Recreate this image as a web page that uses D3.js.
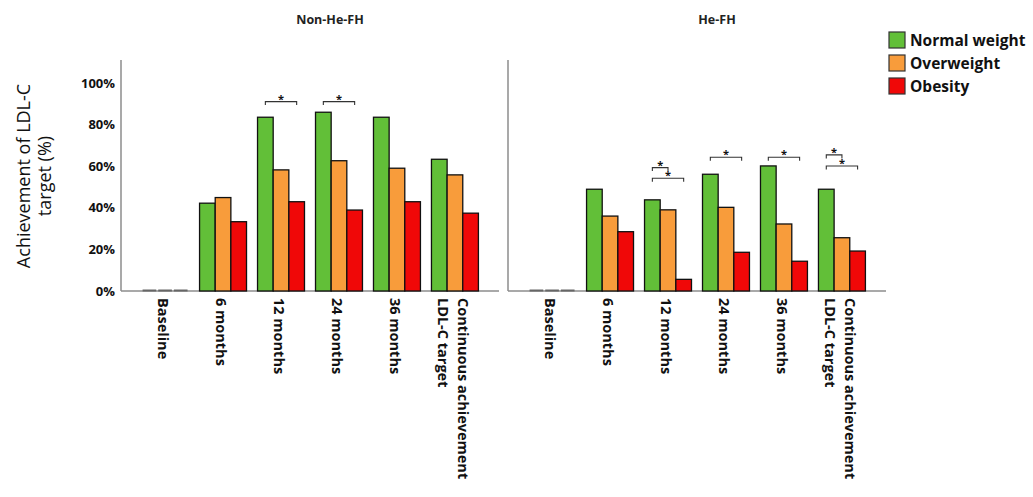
<!DOCTYPE html>
<html>
<head>
<meta charset="utf-8">
<script src="https://cdn.jsdelivr.net/npm/d3@7/dist/d3.min.js"></script>
<style>
  html, body { margin: 0; padding: 0; background: #fff; }
  svg { display: block; font-family: "Open Sans", "DejaVu Sans", sans-serif; }
</style>
</head>
<body>
<svg id="chart" width="1033" height="497"></svg>
<script>
// Time points (multi-line labels are split into lines)
const categories = ["Baseline", "6 months", "12 months", "24 months", "36 months", "Continuous achievement\nLDL-C target"];
const seriesNames = ["Normal weight", "Overweight", "Obesity"];
const seriesColors = ["#62BF38", "#F89C3B", "#F00808"];
const panelTitles = ["Non-He-FH", "He-FH"];

// Achievement of LDL-C target (%), Non-He-FH
const nonHeNormal = [0, 42.2, 83.5, 85.9, 83.5, 63.3];
const nonHeOver   = [0, 44.9, 58.2, 62.6, 59.0, 55.8];
const nonHeObese  = [0, 33.3, 42.9, 38.9, 42.9, 37.4];
// Achievement of LDL-C target (%), He-FH
const heNormal = [0, 48.9, 43.8, 56.1, 60.1, 48.9];
const heOver   = [0, 36.0, 39.0, 40.2, 32.2, 25.6];
const heObese  = [0, 28.5, 5.6, 18.6, 14.3, 19.2];

const yTicks = [0, 20, 40, 60, 80, 100];

// Significant pairwise differences: panel, category, series pair, bracket level (%)
const sigPanel = [0, 0, 1, 1, 1, 1, 1, 1];
const sigCat   = [2, 3, 2, 2, 3, 4, 5, 5];
const sigFrom  = [0, 0, 0, 0, 0, 0, 0, 0];
const sigTo    = [2, 2, 1, 2, 2, 2, 1, 2];
const sigLevel = [91, 91, 59.3, 54.2, 64.3, 64.3, 65.4, 60.1];

const panels = [
  { title: panelTitles[0], series: [nonHeNormal, nonHeOver, nonHeObese], range: [121, 499] },
  { title: panelTitles[1], series: [heNormal, heOver, heObese], range: [508, 886] }
];

const svg = d3.select("#chart");
const y = d3.scaleLinear().domain([0, 111]).range([291, 60]);

// y axis labels and title
svg.append("g").selectAll("text").data(yTicks).join("text")
  .attr("x", 115).attr("y", d => y(d)).attr("dy", "0.36em")
  .attr("text-anchor", "end").attr("font-size", 13).attr("font-weight", 700)
  .attr("fill", "#111").text(d => d + "%");

const yTitle = svg.append("text")
  .attr("transform", "translate(24,176) rotate(-90)")
  .attr("text-anchor", "middle").attr("font-size", 18).attr("fill", "#111");
yTitle.append("tspan").attr("x", 0).attr("dy", "0.35em").text("Achievement of LDL-C");
yTitle.append("tspan").attr("x", 0).attr("dy", "1.15em").text("target (%)");

const grey = "#8c8c8c";

panels.forEach((p, pi) => {
  const x = d3.scaleBand().domain(categories).range(p.range)
    .paddingInner(0.19).paddingOuter(0.355);
  const xs = d3.scaleBand().domain(seriesNames).range([0, x.bandwidth()]);
  const g = svg.append("g");

  // axes lines
  g.append("line").attr("x1", p.range[0]).attr("x2", p.range[0])
    .attr("y1", y(111)).attr("y2", y(0)).attr("stroke", grey).attr("stroke-width", 1.5);
  g.append("line").attr("x1", p.range[0]).attr("x2", p.range[1])
    .attr("y1", y(0)).attr("y2", y(0)).attr("stroke", grey).attr("stroke-width", 1.5);

  // panel title
  g.append("text").attr("x", (p.range[0] + p.range[1]) / 2 + 20).attr("y", 20)
    .attr("dy", "0.35em").attr("text-anchor", "middle")
    .attr("font-size", 12.5).attr("font-weight", 700).attr("fill", "#222").text(p.title);

  // bars
  const cells = [];
  categories.forEach((c, ci) => seriesNames.forEach((s, si) =>
    cells.push({ c, s, si, v: p.series[si][ci] })));

  g.selectAll("rect.bar").data(cells.filter(d => d.v > 0)).join("rect")
    .attr("class", "bar")
    .attr("x", d => x(d.c) + xs(d.s))
    .attr("y", d => y(d.v))
    .attr("width", xs.bandwidth())
    .attr("height", d => y(0) - y(d.v))
    .attr("fill", d => seriesColors[d.si])
    .attr("stroke", "#111").attr("stroke-width", 1.3);

  // zero-valued bars appear as short dashes on the baseline
  g.selectAll("line.zero").data(cells.filter(d => d.v === 0)).join("line")
    .attr("class", "zero")
    .attr("x1", d => x(d.c) + xs(d.s) + 1)
    .attr("x2", d => x(d.c) + xs(d.s) + xs.bandwidth() - 1)
    .attr("y1", y(0) - 0.5).attr("y2", y(0) - 0.5)
    .attr("stroke", "#666").attr("stroke-width", 2);

  // category labels, rotated to read downward
  categories.forEach(c => {
    const lines = c.split("\n");
    const cx = x(c) + x.bandwidth() / 2 - 2;
    lines.forEach((ln, li) => {
      const off = (lines.length - 1) / 2 * 20 - li * 20;
      g.append("text")
        .attr("transform", `translate(${cx + off},298) rotate(90)`)
        .attr("dy", "0.36em")
        .attr("font-size", 14.5).attr("font-weight", 700).attr("fill", "#111")
        .text(ln);
    });
  });

  // significance brackets
  sigPanel.forEach((sp, k) => {
    if (sp !== pi) return;
    const c = categories[sigCat[k]];
    const x1 = x(c) + xs(seriesNames[sigFrom[k]]) + xs.bandwidth() / 2;
    const x2 = x(c) + xs(seriesNames[sigTo[k]]) + xs.bandwidth() / 2;
    const yy = y(sigLevel[k]);
    g.append("path")
      .attr("d", `M${x1},${yy + 3.5}V${yy}H${x2}V${yy + 3.5}`)
      .attr("fill", "none").attr("stroke", "#333").attr("stroke-width", 1.1);
    g.append("text").attr("x", (x1 + x2) / 2).attr("y", yy + 1)
      .attr("text-anchor", "middle").attr("font-size", 11).attr("font-weight", 700)
      .attr("fill", "#111").text("*");
  });
});

// legend
const lg = svg.append("g");
seriesNames.forEach((s, i) => {
  lg.append("rect").attr("x", 889).attr("y", 32 + i * 23).attr("width", 16).attr("height", 16)
    .attr("fill", seriesColors[i]).attr("stroke", "#333").attr("stroke-width", 1.2);
  lg.append("text").attr("x", 910).attr("y", 40 + i * 23).attr("dy", "0.36em")
    .attr("font-size", 15.5).attr("font-weight", 700).attr("fill", "#111").text(s);
});
</script>
</body>
</html>
